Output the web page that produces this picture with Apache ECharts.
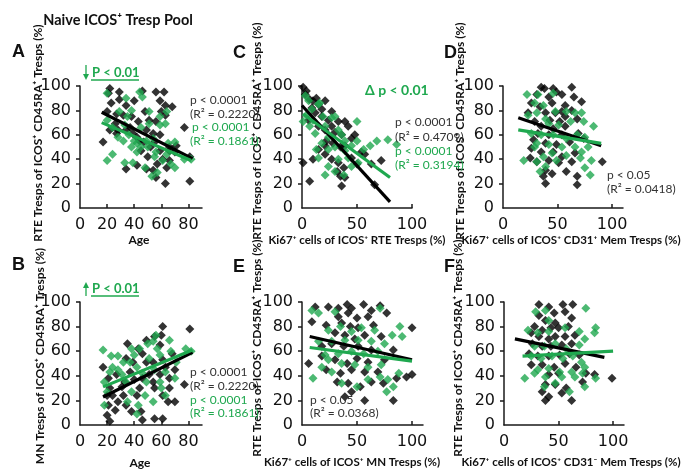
<!DOCTYPE html>
<html>
<head>
<meta charset="utf-8">
<script src="https://cdn.jsdelivr.net/npm/echarts@6/dist/echarts.min.js"></script>
<style>
html,body{margin:0;padding:0;background:#fff;}
#chart{width:682px;height:471px;}
</style>
</head>
<body>
<div id="chart"></div>
<script>
// ---------- DATA ----------
const yTicks = [0, 20, 40, 60, 80, 100];
const ageTicks = [0, 20, 40, 60, 80];
const pctTicks = [0, 50, 100];

// Panel A: Age vs RTE Tresps (%)
const A_black = [[22,98],[21,94],[29,95],[46,96],[56,95],[62,95],[29,89],[34,84],[40,88],[23,86],[20,79],[27,77],[59,88],[63,84],[68,83],[60,79],[63,76],[32,76],[38,75],[43,71],[26,69],[22,64],[17,54],[27,61],[34,64],[39,61],[49,64],[54,61],[59,60],[55,54],[44,55],[52,50],[59,47],[66,50],[50,42],[61,40],[66,39],[57,36],[49,32],[54,31],[64,33],[56,25],[63,20],[34,32],[42,35],[81,22],[77,66],[81,42],[71,51],[28,64],[45,47],[51,72],[48,79],[56,71],[37,66],[42,58],[47,54],[66,47],[70,46]];
const A_green = [[20,94],[44,95],[46,91],[34,90],[38,80],[51,79],[59,75],[51,69],[45,66],[33,68],[20,72],[24,66],[28,58],[32,55],[36,60],[38,50],[24,44],[20,39],[33,37],[39,37],[49,55],[54,57],[59,68],[63,69],[65,53],[64,44],[61,39],[57,29],[53,26],[50,50],[45,50],[42,46],[42,53],[55,42],[70,54],[77,40],[82,40],[48,33],[67,36],[70,33],[64,79],[29,79],[40,55],[35,75],[56,46]];
const A_fitBlack = [[16,78.5],[83,40.5]];
const A_fitGreen = [[16,70],[82,39]];

// Panel B: Age vs MN Tresps (%)
const B_black = [[17,47],[21,38],[22,30],[20,24],[21,16],[20,8],[22,3],[26,12],[28,19],[32,24],[34,16],[38,11],[42,24],[45,11],[46,4],[55,5],[61,5],[33,35],[37,43],[39,51],[43,62],[35,66],[46,58],[49,51],[51,41],[54,51],[49,69],[55,72],[60,73],[61,80],[59,65],[61,53],[63,47],[59,41],[54,35],[61,24],[65,19],[70,19],[66,30],[70,45],[68,58],[81,78],[44,30],[31,31],[40,37],[27,41],[24,24],[66,38],[34,54],[55,30],[46,38],[77,33]];
const B_green = [[17,61],[23,56],[18,35],[20,27],[18,16],[24,47],[28,45],[31,41],[34,35],[37,51],[38,62],[40,57],[42,47],[46,42],[43,16],[42,9],[49,35],[51,54],[50,66],[54,68],[56,73],[57,62],[59,57],[55,45],[59,35],[60,30],[63,24],[66,69],[67,60],[71,51],[70,38],[78,62],[82,60],[32,51],[28,56],[38,27],[48,24],[44,62],[63,43],[22,43],[35,19],[54,19]];
const B_fitBlack = [[17,22.8],[83,59]];
const B_fitGreen = [[17,31],[83,61]];

// Panel C: Ki67+ of ICOS+ RTE Tresps vs RTE Tresps (%)
const C_black = [[1,99],[4,96],[3,93],[7,89],[10,88],[13,90],[15,85],[9,82],[18,81],[21,88],[12,78],[18,75],[24,72],[27,79],[6,72],[15,67],[21,64],[27,67],[33,71],[39,71],[42,67],[30,62],[36,60],[22,55],[28,53],[35,50],[39,51],[15,48],[21,44],[27,40],[33,37],[38,33],[32,30],[35,26],[39,25],[45,41],[50,36],[54,46],[63,36],[66,19],[72,39],[1,37],[10,40],[21,51],[36,18],[45,57],[48,60],[57,44],[7,22]];
const C_green = [[3,92],[6,88],[15,85],[9,81],[16,86],[1,71],[10,72],[19,75],[21,67],[27,74],[24,58],[33,64],[36,60],[39,55],[30,50],[18,53],[13,48],[24,48],[39,47],[45,51],[50,55],[33,40],[42,41],[24,34],[30,30],[21,27],[51,37],[56,48],[50,71],[62,51],[68,55],[78,56],[86,52],[7,67],[4,76],[12,61],[30,75],[15,41],[38,27],[45,34]];
const C_fitBlack = [[0,84],[80,5]];
const C_fitGreen = [[1,77],[80,25]];

// Panel D: Ki67+ of ICOS+ CD31+ Mem Tresps vs RTE Tresps (%)
const D_black = [[35,99],[38,98],[46,98],[49,95],[63,99],[31,93],[42,91],[54,93],[65,91],[26,86],[34,83],[45,86],[57,84],[72,87],[23,78],[39,78],[48,78],[54,79],[63,80],[29,71],[43,72],[52,71],[68,73],[35,67],[46,65],[57,67],[32,61],[42,60],[54,60],[69,61],[28,56],[39,53],[49,52],[61,54],[74,57],[26,49],[35,46],[46,46],[54,42],[66,45],[31,38],[42,39],[51,37],[63,38],[91,38],[39,31],[45,28],[58,30],[37,26],[39,20],[68,26],[68,19],[25,41],[57,75]];
const D_green = [[22,93],[32,93],[46,94],[29,86],[37,84],[23,76],[31,78],[39,73],[48,79],[58,79],[66,78],[72,78],[42,69],[51,68],[62,71],[74,71],[83,67],[26,61],[35,60],[46,60],[58,57],[68,60],[75,58],[31,53],[42,52],[54,50],[66,50],[78,50],[19,39],[31,38],[37,42],[45,45],[49,39],[58,43],[71,41],[81,39],[80,27],[75,33],[39,34],[34,30],[29,50],[72,46]];
const D_fitBlack = [[14,74],[90,51]];
const D_fitGreen = [[14,64],[90,53]];

// Panel E: Ki67+ of ICOS+ MN Tresps vs RTE Tresps (%)
const E_black = [[12,96],[24,96],[33,95],[41,98],[45,95],[56,98],[63,93],[71,97],[33,88],[42,91],[50,87],[60,88],[77,91],[9,84],[22,81],[36,83],[44,80],[51,79],[65,81],[100,79],[30,75],[39,73],[48,70],[57,73],[72,72],[18,64],[27,66],[38,64],[51,64],[63,61],[83,61],[6,50],[18,56],[30,53],[41,50],[50,54],[60,51],[75,53],[22,45],[35,42],[45,45],[57,43],[69,43],[86,38],[95,39],[100,41],[32,35],[42,34],[53,31],[63,35],[45,27],[39,23],[57,20],[83,20],[74,34]];
const E_green = [[9,93],[15,91],[30,92],[71,95],[24,77],[35,80],[45,76],[54,79],[66,77],[82,73],[89,80],[91,72],[15,68],[27,68],[39,69],[51,69],[63,68],[75,66],[21,57],[33,58],[45,60],[56,58],[69,60],[24,53],[36,50],[48,49],[60,47],[72,49],[10,38],[27,43],[36,34],[50,31],[60,37],[71,39],[78,37],[83,31],[77,27],[88,42],[18,47]];
const E_fitBlack = [[7,72],[100,53]];
const E_fitGreen = [[7,63],[100,52]];

// Panel F: Ki67+ of ICOS+ CD31- Mem Tresps vs RTE Tresps (%)
const F_black = [[32,98],[41,96],[54,98],[63,98],[56,92],[46,91],[32,89],[38,85],[47,83],[62,87],[28,80],[35,77],[43,79],[50,79],[59,80],[25,75],[32,72],[41,70],[47,72],[56,72],[65,73],[26,66],[35,64],[43,64],[53,65],[62,66],[23,58],[31,56],[41,56],[51,57],[60,58],[69,57],[25,49],[35,49],[46,47],[56,50],[66,47],[75,42],[83,41],[41,41],[50,42],[38,33],[47,33],[57,30],[35,27],[41,23],[53,26],[38,20],[62,20],[99,38],[72,35]];
const F_green = [[29,92],[38,93],[41,85],[22,77],[31,75],[41,76],[56,79],[69,76],[75,95],[84,79],[83,75],[28,64],[37,64],[47,66],[57,62],[69,65],[74,70],[25,56],[34,54],[44,56],[54,54],[63,56],[71,51],[74,47],[31,45],[41,46],[51,43],[62,43],[72,42],[19,38],[28,42],[38,39],[53,39],[65,39],[74,31],[84,38],[37,31],[47,34],[60,27]];
const F_fitBlack = [[10,70],[92,55]];
const F_fitGreen = [[17,56],[100,60]];

// ---------- STYLE ----------
const BLACK = '#000000';
const GREEN = '#1fa84f';
const TXT = '#333333';
const tickFont = 'DejaVu Sans';

const grids = [
  {left: 80,  top: 86,  width: 122, height: 122}, // A
  {left: 80,  top: 302, width: 122, height: 123}, // B
  {left: 302, top: 86,  width: 110, height: 122}, // C
  {left: 503, top: 86,  width: 120, height: 122}, // D
  {left: 302, top: 302, width: 121, height: 123}, // E
  {left: 504, top: 302, width: 120, height: 123}  // F
];
const xCfg = [
  {max: 90,  interval: 20, ticks: ageTicks},
  {max: 90,  interval: 20, ticks: ageTicks},
  {max: 100, interval: 50, ticks: pctTicks},
  {max: 110, interval: 50, ticks: pctTicks},
  {max: 110, interval: 50, ticks: pctTicks},
  {max: 110, interval: 50, ticks: pctTicks}
];
const axisLineStyle = {color: '#1a1a1a', width: 1.5};

const xAxes = xCfg.map((c, i) => ({
  type: 'value', gridIndex: i, min: 0, max: c.max, interval: c.interval,
  axisLine: {show: true, onZero: false, lineStyle: axisLineStyle},
  axisTick: {show: true, inside: true, length: 4, customValues: c.ticks.filter(v => v > 0), lineStyle: axisLineStyle},
  axisLabel: {customValues: c.ticks, fontFamily: tickFont, fontSize: 16, color: '#111', margin: 9},
  splitLine: {show: false}
}));
const yAxes = grids.map((g, i) => ({
  type: 'value', gridIndex: i, min: 0, max: 100, interval: 20,
  axisLine: {show: true, onZero: false, lineStyle: axisLineStyle},
  axisTick: {show: true, inside: false, length: 4, customValues: yTicks.filter(v => v > 0), lineStyle: axisLineStyle},
  axisLabel: {customValues: yTicks, fontFamily: tickFont, fontSize: 16, color: '#111', margin: 9},
  splitLine: {show: false}
}));

const panels = [
  [A_black, A_green, A_fitBlack, A_fitGreen],
  [B_black, B_green, B_fitBlack, B_fitGreen],
  [C_black, C_green, C_fitBlack, C_fitGreen],
  [D_black, D_green, D_fitBlack, D_fitGreen],
  [E_black, E_green, E_fitBlack, E_fitGreen],
  [F_black, F_green, F_fitBlack, F_fitGreen]
];
const series = [];
panels.forEach((p, i) => {
  series.push({type: 'scatter', xAxisIndex: i, yAxisIndex: i, data: p[0], symbol: 'diamond', symbolSize: 9, itemStyle: {color: BLACK}, z: 2, silent: true});
  series.push({type: 'scatter', xAxisIndex: i, yAxisIndex: i, data: p[1], symbol: 'diamond', symbolSize: 9, itemStyle: {color: GREEN}, z: 3, silent: true});
  series.push({type: 'line', xAxisIndex: i, yAxisIndex: i, data: p[2], showSymbol: false, symbol: 'none', lineStyle: {color: BLACK, width: 3.2}, z: 4, silent: true});
  series.push({type: 'line', xAxisIndex: i, yAxisIndex: i, data: p[3], showSymbol: false, symbol: 'none', lineStyle: {color: GREEN, width: 3.2}, z: 5, silent: true});
});

// ---------- TEXT ----------
function txt(x, y, text, font, fill, align, rot) {
  return {type: 'text', x: x, y: y, rotation: rot || 0, z: 100,
    style: {text: text, font: font, fill: fill, align: align || 'left', verticalAlign: 'middle'}};
}
const annFont = '12px Lato';
const nameFont = 'bold 12px Lato';
const xNameFont = 'bold 11.5px Lato';
const yName1 = 'RTE Tresps of ICOS\u207A CD45RA\u207A Tresps (%)';
const yName2 = 'MN Tresps of ICOS\u207A CD45RA\u207A Tresps (%)';
const R = Math.PI / 2;

const graphics = [
  txt(118, 20, 'Naive ICOS\u207A Tresp Pool', 'bold 14.5px Lato', '#111', 'center'),
  txt(12, 52, 'A', 'bold 18px "Liberation Sans"', '#111', 'left'),
  txt(12, 265, 'B', 'bold 18px "Liberation Sans"', '#111', 'left'),
  txt(233, 53, 'C', 'bold 18px "Liberation Sans"', '#111', 'left'),
  txt(444, 53, 'D', 'bold 18px "Liberation Sans"', '#111', 'left'),
  txt(233, 267, 'E', 'bold 18px "Liberation Sans"', '#111', 'left'),
  txt(444, 267, 'F', 'bold 18px "Liberation Sans"', '#111', 'left'),
  // y names
  txt(38, 133, yName1, nameFont, '#111', 'center', R),
  txt(40, 356, yName2, nameFont, '#111', 'center', R),
  txt(257, 131, yName1, nameFont, '#111', 'center', R),
  txt(460, 131, yName1, nameFont, '#111', 'center', R),
  txt(257, 348, yName1, nameFont, '#111', 'center', R),
  txt(458, 348, yName1, nameFont, '#111', 'center', R),
  // x names
  txt(139, 240, 'Age', nameFont, '#111', 'center'),
  txt(140, 463, 'Age', nameFont, '#111', 'center'),
  txt(357, 240, 'Ki67\u207A cells of ICOS\u207A RTE Tresps (%)', xNameFont, '#111', 'center'),
  txt(571, 240, 'Ki67\u207A cells of ICOS\u207A CD31\u207A Mem Tresps (%)', xNameFont, '#111', 'center'),
  txt(352, 462, 'Ki67\u207A cells of ICOS\u207A MN Tresps (%)', xNameFont, '#111', 'center'),
  txt(571, 462, 'Ki67\u207A cells of ICOS\u207A CD31\u207B Mem Tresps (%)', xNameFont, '#111', 'center'),
  // A stats
  txt(190, 100, 'p < 0.0001', annFont, TXT), txt(190, 114, '(R\u00B2 = 0.2220)', annFont, TXT),
  txt(192, 127, 'p < 0.0001', annFont, GREEN), txt(190, 141, '(R\u00B2 = 0.1861)', annFont, GREEN),
  // B stats
  txt(190, 372, 'p < 0.0001', annFont, TXT), txt(190, 386, '(R\u00B2 = 0.2220)', annFont, TXT),
  txt(190, 400, 'p < 0.0001', annFont, GREEN), txt(190, 413, '(R\u00B2 = 0.1861)', annFont, GREEN),
  // C stats
  txt(395, 122, 'p < 0.0001', annFont, TXT), txt(395, 137, '(R\u00B2 = 0.4709)', annFont, TXT),
  txt(395, 151, 'p < 0.0001', annFont, GREEN), txt(395, 165, '(R\u00B2 = 0.3194)', annFont, GREEN),
  // D stats
  txt(607, 175, 'p < 0.05', annFont, TXT), txt(607, 189, '(R\u00B2 = 0.0418)', annFont, TXT),
  // E stats
  txt(310, 400, 'p < 0.05', annFont, TXT), txt(310, 413, '(R\u00B2 = 0.0368)', annFont, TXT),
  // significance marks
  txt(92, 73, 'P < 0.01', 'bold 13px Lato', GREEN),
  {type: 'line', z: 100, shape: {x1: 91, y1: 80, x2: 139, y2: 80}, style: {stroke: GREEN, lineWidth: 1.5}},
  {type: 'line', z: 100, shape: {x1: 86, y1: 65, x2: 86, y2: 76}, style: {stroke: GREEN, lineWidth: 1.3}},
  {type: 'polygon', z: 100, shape: {points: [[83, 74], [89, 74], [86, 80]]}, style: {fill: GREEN}},
  txt(92, 289, 'P < 0.01', 'bold 13px Lato', GREEN),
  {type: 'line', z: 100, shape: {x1: 91, y1: 296, x2: 139, y2: 296}, style: {stroke: GREEN, lineWidth: 1.5}},
  {type: 'line', z: 100, shape: {x1: 86, y1: 286, x2: 86, y2: 296}, style: {stroke: GREEN, lineWidth: 1.3}},
  {type: 'polygon', z: 100, shape: {points: [[83, 288], [89, 288], [86, 282]]}, style: {fill: GREEN}},
  txt(365, 90, '\u0394 p < 0.01', 'bold 14px Lato', GREEN)
];

const chart = echarts.init(document.getElementById('chart'), null, {renderer: 'canvas'});
chart.setOption({
  animation: false,
  backgroundColor: '#ffffff',
  grid: grids.map(g => Object.assign({containLabel: false}, g)),
  xAxis: xAxes,
  yAxis: yAxes,
  series: series,
  graphic: graphics
});
</script>
</body>
</html>
